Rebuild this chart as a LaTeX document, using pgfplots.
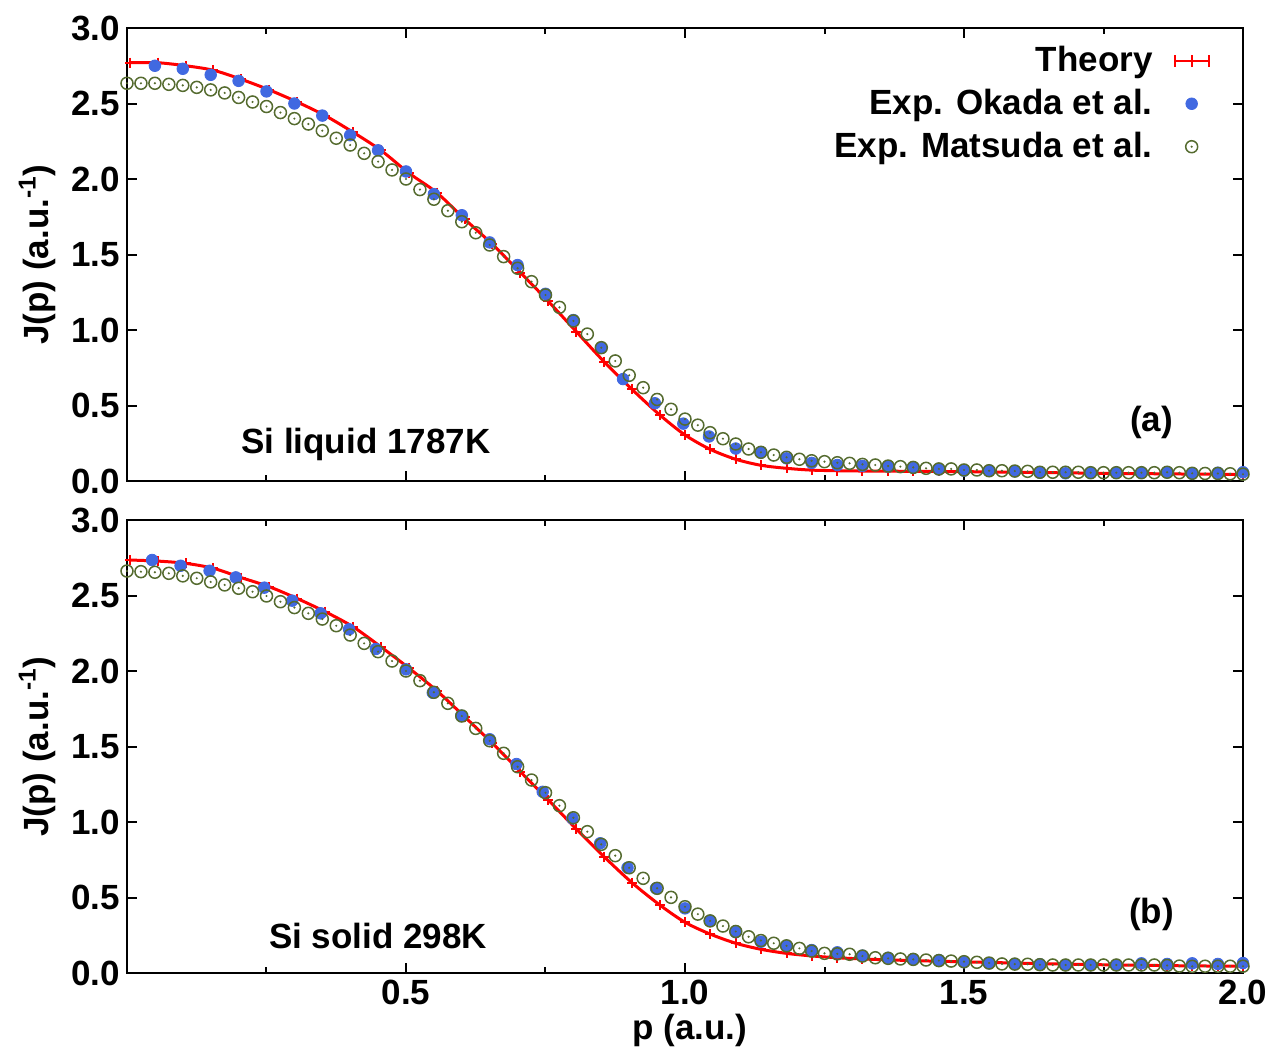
\documentclass[border=0pt]{standalone}
\usepackage{fontspec}
\setmainfont{Liberation Sans}
\usepackage{pgfplots}
\pgfplotsset{compat=1.18}
\usepackage{pgfplotstable}
\definecolor{thred}{RGB}{255,0,0}
\definecolor{okblue}{RGB}{65,105,225}
\definecolor{matgreen}{RGB}{85,107,47}
\pgfdeclareplotmark{odot}{%
  \pgfpathcircle{\pgfpointorigin}{\pgfplotmarksize}\pgfusepathqstroke
  \pgfpathcircle{\pgfpointorigin}{0.6pt}\pgfusepathqfill}
\newcommand{\bigfont}{\fontsize{17.5}{21}\selectfont\bfseries}

\pgfplotstableread{
x y
0.005 2.77
0.055 2.77
0.105 2.75
0.155 2.72
0.205 2.66
0.255 2.59
0.305 2.51
0.355 2.42
0.405 2.31
0.455 2.19
0.505 2.04
0.555 1.91
0.605 1.735
0.655 1.567
0.705 1.38
0.755 1.19
0.805 0.99
0.855 0.79
0.905 0.607
0.955 0.437
1.000 0.305
1.045 0.21
1.091 0.144
1.136 0.104
1.182 0.084
1.227 0.072
1.273 0.068
1.318 0.066
1.364 0.065
1.409 0.064
1.455 0.063
1.500 0.062
1.545 0.060
1.591 0.058
1.636 0.056
1.682 0.054
1.727 0.052
1.773 0.050
1.818 0.049
1.864 0.047
1.909 0.046
1.955 0.045
2.000 0.044
}\theoryA

\pgfplotstableread{
x y
0.05 2.75
0.10 2.73
0.15 2.69
0.20 2.65
0.25 2.58
0.30 2.50
0.35 2.42
0.40 2.29
0.45 2.19
0.50 2.05
0.55 1.90
0.60 1.76
0.65 1.58
0.70 1.43
0.75 1.24
0.80 1.066
0.85 0.883
0.889 0.675
0.946 0.515
0.997 0.38
1.043 0.295
1.091 0.215
1.136 0.19
1.182 0.15
1.227 0.12
1.273 0.106
1.318 0.10
1.364 0.095
1.409 0.088
1.455 0.077
1.500 0.068
1.545 0.068
1.591 0.064
1.636 0.055
1.682 0.051
1.727 0.055
1.773 0.055
1.818 0.055
1.864 0.057
1.909 0.051
1.955 0.055
2.000 0.058
}\okadaA

\pgfplotstableread{
x y
0.000 2.634
0.025 2.634
0.050 2.634
0.075 2.627
0.100 2.620
0.125 2.607
0.150 2.590
0.175 2.570
0.200 2.540
0.225 2.510
0.250 2.480
0.275 2.440
0.300 2.400
0.325 2.364
0.350 2.320
0.375 2.270
0.400 2.225
0.425 2.170
0.450 2.115
0.475 2.060
0.500 2.000
0.525 1.930
0.550 1.866
0.575 1.790
0.600 1.717
0.625 1.644
0.650 1.563
0.675 1.486
0.700 1.409
0.725 1.320
0.750 1.232
0.775 1.150
0.800 1.060
0.825 0.973
0.850 0.883
0.875 0.795
0.900 0.700
0.925 0.618
0.950 0.540
0.975 0.475
1.000 0.410
1.023 0.370
1.045 0.320
1.068 0.280
1.091 0.245
1.114 0.212
1.136 0.190
1.159 0.172
1.182 0.157
1.205 0.144
1.227 0.134
1.250 0.128
1.273 0.121
1.295 0.117
1.318 0.110
1.341 0.106
1.364 0.099
1.386 0.095
1.409 0.090
1.432 0.084
1.455 0.080
1.477 0.080
1.500 0.073
1.523 0.073
1.545 0.068
1.568 0.068
1.591 0.066
1.614 0.064
1.636 0.058
1.659 0.058
1.682 0.058
1.705 0.058
1.727 0.055
1.750 0.055
1.773 0.055
1.795 0.055
1.818 0.055
1.841 0.055
1.864 0.058
1.886 0.055
1.909 0.051
1.932 0.050
1.955 0.050
1.977 0.048
2.000 0.045
}\matsudaA

\pgfplotstableread{
x y
0.005 2.735
0.055 2.728
0.105 2.713
0.155 2.680
0.205 2.618
0.255 2.558
0.305 2.480
0.355 2.393
0.405 2.293
0.455 2.160
0.505 2.020
0.555 1.870
0.605 1.697
0.655 1.521
0.705 1.333
0.755 1.146
0.805 0.954
0.855 0.770
0.905 0.598
0.955 0.450
1.000 0.336
1.045 0.258
1.091 0.197
1.136 0.157
1.182 0.130
1.227 0.113
1.273 0.101
1.318 0.093
1.364 0.087
1.409 0.082
1.455 0.078
1.500 0.074
1.545 0.070
1.591 0.066
1.636 0.062
1.682 0.059
1.727 0.056
1.773 0.053
1.818 0.051
1.864 0.049
1.909 0.047
1.955 0.046
2.000 0.045
}\theoryB

\pgfplotstableread{
x y
0.045 2.735
0.096 2.697
0.148 2.664
0.195 2.620
0.246 2.552
0.296 2.466
0.347 2.382
0.398 2.276
0.446 2.146
0.500 2.011
0.548 1.856
0.599 1.704
0.650 1.548
0.698 1.384
0.745 1.200
0.798 1.024
0.848 0.859
0.897 0.697
0.948 0.561
1.000 0.428
1.045 0.346
1.091 0.270
1.136 0.207
1.182 0.179
1.227 0.152
1.273 0.137
1.318 0.115
1.364 0.101
1.409 0.093
1.455 0.086
1.500 0.071
1.545 0.064
1.591 0.060
1.636 0.058
1.682 0.053
1.727 0.053
1.773 0.053
1.818 0.064
1.864 0.060
1.909 0.064
1.955 0.060
2.000 0.066
}\okadaB

\pgfplotstableread{
x y
0.000 2.662
0.025 2.658
0.050 2.654
0.075 2.647
0.100 2.630
0.125 2.614
0.150 2.590
0.175 2.570
0.200 2.548
0.225 2.525
0.250 2.497
0.275 2.459
0.300 2.420
0.325 2.382
0.350 2.344
0.375 2.300
0.400 2.238
0.425 2.183
0.450 2.128
0.475 2.066
0.500 2.000
0.525 1.936
0.550 1.859
0.575 1.786
0.600 1.702
0.625 1.620
0.650 1.538
0.675 1.455
0.700 1.366
0.725 1.278
0.750 1.194
0.775 1.108
0.800 1.028
0.825 0.936
0.850 0.852
0.875 0.777
0.900 0.697
0.925 0.627
0.950 0.561
0.975 0.501
1.000 0.439
1.023 0.390
1.045 0.345
1.068 0.311
1.091 0.275
1.114 0.240
1.136 0.215
1.159 0.197
1.182 0.180
1.205 0.163
1.227 0.145
1.250 0.130
1.273 0.127
1.295 0.124
1.318 0.112
1.341 0.101
1.364 0.097
1.386 0.093
1.409 0.090
1.432 0.086
1.455 0.082
1.477 0.079
1.500 0.075
1.523 0.071
1.545 0.066
1.568 0.060
1.591 0.059
1.614 0.058
1.636 0.055
1.659 0.053
1.682 0.053
1.705 0.053
1.727 0.053
1.750 0.053
1.773 0.053
1.795 0.053
1.818 0.053
1.841 0.053
1.864 0.050
1.886 0.046
1.909 0.044
1.932 0.045
1.955 0.045
1.977 0.045
2.000 0.045
}\matsudaB

\pgfplotsset{
  jstyle/.style={
    scale only axis, width=558pt, height=226.5pt,
    xmin=0, xmax=2, ymin=0, ymax=3,
    xtick={0.5,1,1.5,2}, minor xtick={0.25,0.75,1.25,1.75},
    ytick={0,0.5,1,1.5,2,2.5,3},
    tick align=inside, xtick pos=both, ytick pos=both,
    xticklabel pos=lower, yticklabel pos=left,
    major tick length=5pt, minor tick length=3pt,
    tick style={black, line width=1pt},
    axis line style={line width=1.2pt},
    ticklabel style={font=\bigfont},
    label style={font=\bigfont},
    /pgf/number format/fixed, /pgf/number format/fixed zerofill,
    /pgf/number format/precision=1, /pgf/number format/assume math mode=true,
    ylabel={J(p) (a.u.\textsuperscript{-1})},
    ylabel style={at={(axis description cs:-0.0806,0.5)}, anchor=center},
    clip=false,
  },
  thstyle/.style={thred, line width=1.5pt, smooth, mark=+, mark size=2.5pt,
    mark options={line width=1pt, solid},
    legend image code/.code={\draw[thred,line width=1pt] (0pt,0pt)--(17pt,0pt)
      (0pt,-3pt)--(0pt,3pt) (8.5pt,-3pt)--(8.5pt,3pt) (17pt,-3pt)--(17pt,3pt);}},
  okstyle/.style={only marks, mark=*, mark size=2.9pt,
    mark options={draw=okblue, fill=okblue},
    legend image code/.code={\draw[mark repeat=2,mark phase=2,##1] plot coordinates {(0pt,0pt)(8.5pt,0pt)(17pt,0pt)};}},
  mastyle/.style={only marks, mark=odot, mark size=3.0pt,
    mark options={draw=matgreen, fill=matgreen, line width=0.75pt},
    legend image code/.code={\draw[mark repeat=2,mark phase=2,##1] plot coordinates {(0pt,0pt)(8.5pt,0pt)(17pt,0pt)};}},
}

\begin{document}
\begin{tikzpicture}
\useasboundingbox (-63.5pt,-285pt) rectangle (572pt,240.5pt);
\begin{axis}[jstyle, at={(0pt,0pt)}, anchor=south west,
  xticklabels={},
  legend style={draw=none, fill=none, at={(axis description cs:0.9705,0.962)},
    anchor=north east, inner sep=0pt, row sep=6.3pt, column sep=10pt,
    nodes={inner sep=0.5pt}, font=\bigfont},
  legend plot pos=right, legend cell align=right]
\addplot[thstyle] table {\theoryA};
\addlegendentry{Theory}
\addplot[okstyle] table {\okadaA};
\addlegendentry{Exp. Okada et al.}
\addplot[mastyle] table {\matsudaA};
\addlegendentry{Exp. Matsuda et al.}
\node[font=\bigfont, anchor=center] at (axis cs:0.428,0.245) {Si liquid 1787K};
\node[font=\bigfont, anchor=center] at (axis cs:1.836,0.387) {(a)};
\end{axis}
\begin{axis}[jstyle, at={(0pt,-246pt)}, anchor=south west,
  xlabel={p (a.u.)},
  xlabel style={at={(axis description cs:0.5045,0)}, anchor=center, yshift=-28.5pt}]
\addplot[thstyle] table {\theoryB};
\addplot[okstyle] table {\okadaB};
\addplot[mastyle] table {\matsudaB};
\node[font=\bigfont, anchor=center] at (axis cs:0.45,0.245) {Si solid 298K};
\node[font=\bigfont, anchor=center] at (axis cs:1.836,0.387) {(b)};
\end{axis}
\end{tikzpicture}
\end{document}
